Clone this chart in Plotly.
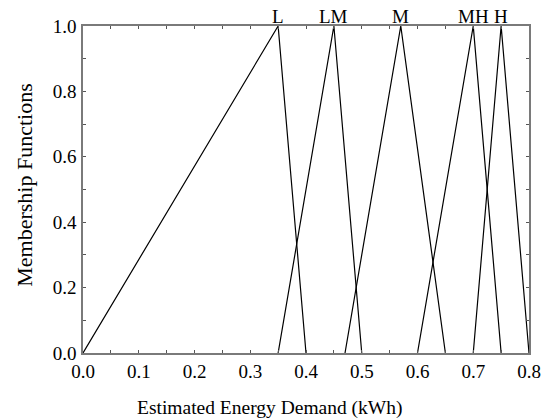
import plotly.graph_objects as go

# Triangular membership functions: (left foot, peak, right foot)
labels = ["L", "LM", "M", "MH", "H"]
left_feet = [0.0, 0.35, 0.47, 0.60, 0.70]
peaks = [0.35, 0.45, 0.57, 0.70, 0.75]
right_feet = [0.40, 0.50, 0.65, 0.75, 0.80]
peak_value = 1.0

x_title = "Estimated Energy Demand (kWh)"
y_title = "Membership Functions"

font_family = "Liberation Serif"
tick_font = dict(family=font_family, size=19, color="black")

fig = go.Figure()
for name, a, b, c in zip(labels, left_feet, peaks, right_feet):
    fig.add_trace(go.Scatter(
        x=[a, b, c], y=[0, peak_value, 0], mode="lines", name=name,
        line=dict(color="black", width=1.2), showlegend=False,
        hoverinfo="skip", cliponaxis=False,
    ))
    fig.add_annotation(
        x=b, y=peak_value, text=name, showarrow=False, yanchor="bottom",
        yshift=-3, font=tick_font,
    )

# axis titles placed as paper annotations
fig.add_annotation(
    xref="paper", yref="paper", x=0.419, y=-0.168, text=x_title,
    showarrow=False, xanchor="center", yanchor="middle",
    font=dict(family=font_family, size=19.5, color="black"),
)
fig.add_annotation(
    xref="paper", yref="paper", x=-0.132, y=0.515, text=y_title,
    showarrow=False, xanchor="center", yanchor="middle", textangle=-90,
    font=dict(family=font_family, size=22, color="black"),
)

axis_common = dict(
    showline=True, linecolor="#7a7a7a", linewidth=1.5, mirror="allticks",
    ticks="inside", ticklen=3, tickwidth=1, tickcolor="#555",
    showgrid=False, zeroline=False, tickfont=tick_font, automargin=False,
)

fig.update_xaxes(
    range=[0, 0.8], dtick=0.1, tick0=0, tickformat=".1f",
    minor=dict(dtick=0.05, ticks="inside", ticklen=3, tickcolor="#555"),
    ticklabelstandoff=0,
    **axis_common,
)
fig.update_yaxes(
    range=[0, 1.0], dtick=0.2, tick0=0, tickformat=".1f",
    minor=dict(dtick=0.1, ticks="inside", ticklen=3, tickcolor="#555"),
    ticklabelstandoff=1,
    **axis_common,
)

fig.update_layout(
    width=549, height=419,
    margin=dict(l=83, r=20, t=26, b=66),
    font=tick_font,
    plot_bgcolor="white", paper_bgcolor="white",
)

fig.write_html("out.html")
